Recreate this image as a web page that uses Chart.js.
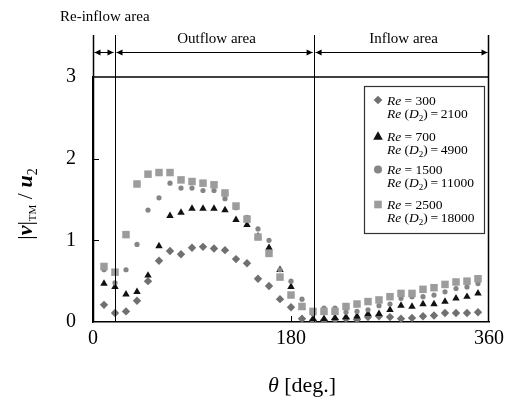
<!DOCTYPE html>
<html><head><meta charset="utf-8">
<script src="https://cdn.jsdelivr.net/npm/chart.js@4/dist/chart.umd.min.js"></script>
<style>html,body{margin:0;padding:0;background:#fff}#wrap{width:510px;height:397px;position:relative}</style>
</head><body><div id="wrap"><canvas id="c" width="510" height="397"></canvas></div>
<script>
// ---- data ----
const theta = [10,20,30,40,50,60,70,80,90,100,110,120,130,140,150,160,170,180,190,200,210,220,230,240,250,260,270,280,290,300,310,320,330,340,350];
const re300  = [0.21,0.11,0.13,0.26,0.50,0.75,0.87,0.83,0.91,0.92,0.90,0.88,0.77,0.72,0.53,0.44,0.28,0.18,0.04,0.02,0.02,0.03,0.04,0.03,0.06,0.07,0.06,0.04,0.05,0.07,0.08,0.11,0.11,0.11,0.12];
const re700  = [0.47,0.43,0.34,0.37,0.57,0.93,1.30,1.34,1.39,1.39,1.39,1.37,1.25,1.19,1.05,0.91,0.64,0.43,0.18,0.04,0.04,0.05,0.06,0.07,0.10,0.10,0.15,0.20,0.19,0.22,0.22,0.25,0.29,0.31,0.35];
const re1500 = [0.64,0.48,0.64,0.95,1.37,1.52,1.70,1.64,1.64,1.61,1.61,1.51,1.40,1.28,1.14,1.00,0.64,0.50,0.28,0.10,0.17,0.17,0.12,0.13,0.15,0.20,0.22,0.29,0.31,0.31,0.33,0.37,0.41,0.43,0.47];
const re2500 = [0.68,0.61,1.07,1.69,1.81,1.83,1.83,1.74,1.72,1.70,1.68,1.58,1.42,1.26,1.04,0.84,0.55,0.33,0.19,0.13,0.13,0.13,0.19,0.22,0.25,0.27,0.31,0.35,0.35,0.40,0.42,0.46,0.49,0.50,0.53];
const xTicks = [0,180,360];
const yTicks = [0,1,2,3];
const areaBounds = [0,20,201,360];
const areaLabels = ['Re-inflow area','Outflow area','Inflow area'];
const legendRe = ['300','700','1500','2500'];
const legendReD2 = ['2100','4900','11000','18000'];

// ---- styles ----
const FAM = "'Liberation Serif','Times New Roman',serif";
const series = [
  {data: re300,  style: 'rectRot',  color: '#707070', r: 4.2},
  {data: re700,  style: 'triangle', color: '#111111', r: 4.3},
  {data: re1500, style: 'circle',   color: '#858585', r: 2.6},
  {data: re2500, style: 'rect',     color: '#9c9c9c', r: 5.3}
];
Chart.defaults.font.family = FAM;
Chart.defaults.color = '#000';

function fontOf(r){ return (r.i?'italic ':'') + (r.b?'bold ':'') + r.s + 'px ' + FAM; }
function runsWidth(ctx, runs){ let w=0; for(const r of runs){ ctx.font=fontOf(r); w+=ctx.measureText(r.t).width; } return w; }
function drawRuns(ctx, x, y, runs){ for(const r of runs){ ctx.font=fontOf(r); ctx.fillText(r.t, x, y+(r.dy||0)); x+=ctx.measureText(r.t).width; } }

function marker(ctx, style, x, y, color){
  ctx.fillStyle = color; ctx.beginPath();
  if(style==='rectRot'){ const h=4.3; ctx.moveTo(x-h,y); ctx.lineTo(x,y-h); ctx.lineTo(x+h,y); ctx.lineTo(x,y+h); ctx.closePath(); }
  else if(style==='triangle'){ ctx.moveTo(x,y-4.8); ctx.lineTo(x+4.8,y+3.8); ctx.lineTo(x-4.8,y+3.8); ctx.closePath(); }
  else if(style==='circle'){ ctx.arc(x,y,4,0,Math.PI*2); }
  else { ctx.rect(x-3.8,y-3.8,7.6,7.6); }
  ctx.fill();
}

function arrowHead(ctx, x, y, dir){
  ctx.beginPath(); ctx.moveTo(x,y); ctx.lineTo(x-dir*6,y-3); ctx.lineTo(x-dir*6,y+3); ctx.closePath(); ctx.fill();
}

const decor = {
  id: 'decor',
  afterDraw(chart){
    const ctx = chart.ctx, xs = chart.scales.x, ys = chart.scales.y, a = chart.chartArea;
    ctx.save();
    ctx.strokeStyle = '#000'; ctx.fillStyle = '#000';
    // box top
    ctx.lineWidth = 1.5;
    ctx.beginPath(); ctx.moveTo(a.left, ys.getPixelForValue(3)); ctx.lineTo(a.right, ys.getPixelForValue(3)); ctx.stroke();
    // inward ticks
    ctx.lineWidth = 1;
    for(const v of yTicks.slice(1,-1)){ const y=Math.round(ys.getPixelForValue(v))+0.5; ctx.beginPath(); ctx.moveTo(a.left,y); ctx.lineTo(a.left+6,y); ctx.stroke(); }
    for(const v of xTicks.slice(1,-1)){ const x=Math.round(xs.getPixelForValue(v))+0.5; ctx.beginPath(); ctx.moveTo(x,a.bottom); ctx.lineTo(x,a.bottom-6); ctx.stroke(); }
    // boundary lines
    const topY = 35, arY = 52.5;
    areaBounds.forEach((b,i)=>{
      const x = Math.round(xs.getPixelForValue(b)) + (i===areaBounds.length-1 ? -0.5 : 0.5);
      ctx.lineWidth = (i===0||i===areaBounds.length-1) ? 1.5 : 1;
      ctx.beginPath(); ctx.moveTo(x, topY); ctx.lineTo(x, a.bottom); ctx.stroke();
    });
    // arrows
    ctx.lineWidth = 1;
    for(let i=0;i<areaBounds.length-1;i++){
      const x1 = xs.getPixelForValue(areaBounds[i])+1.5, x2 = xs.getPixelForValue(areaBounds[i+1])-1.5;
      ctx.beginPath(); ctx.moveTo(x1,arY); ctx.lineTo(x2,arY); ctx.stroke();
      arrowHead(ctx, x1, arY, -1); arrowHead(ctx, x2, arY, 1);
    }
    // area labels
    ctx.font = '15px ' + FAM; ctx.textBaseline = 'alphabetic';
    ctx.textAlign = 'left'; ctx.fillText(areaLabels[0], 60, 21);
    ctx.textAlign = 'center';
    for(let i=1;i<areaLabels.length;i++){
      const cx = (xs.getPixelForValue(areaBounds[i])+xs.getPixelForValue(areaBounds[i+1]))/2 + 2;
      ctx.fillText(areaLabels[i], cx, 43);
    }
    // legend
    ctx.textAlign = 'left';
    ctx.strokeStyle = '#333'; ctx.lineWidth = 1.2;
    ctx.strokeRect(364.5, 86.5, 120, 147);
    const ly = [100, 136, 169.5, 204.5];
    series.forEach((s,i)=>{
      marker(ctx, s.style, 378, ly[i], s.color);
      ctx.fillStyle = '#000';
      drawRuns(ctx, 387, ly[i]+4.5, [{t:'Re',i:1,s:13.5},{t:' = '+legendRe[i],s:13.5}]);
      drawRuns(ctx, 387, ly[i]+17.5, [{t:'Re',i:1,s:13.5},{t:' (',s:13.5},{t:'D',i:1,s:13.5},{t:'2',s:9,dy:3},{t:')\u2009=\u2009'+legendReD2[i],s:13.5}]);
    });
    // x title
    ctx.fillStyle = '#000';
    const xr = [{t:'\u03B8',i:1,s:22},{t:' [deg.]',s:22}];
    const xw = runsWidth(ctx, xr);
    drawRuns(ctx, 302 - xw/2, 392, xr);
    // y title
    ctx.save();
    ctx.translate(32, 204); ctx.rotate(-Math.PI/2);
    const yr = [{t:'|',s:22},{t:'v',i:1,b:1,s:22},{t:'|',s:22},{t:'TM',s:11,dy:4},{t:' / ',s:22},{t:'u',i:1,b:1,s:22},{t:'2',s:14,dy:5}];
    const yw = runsWidth(ctx, yr);
    drawRuns(ctx, -yw/2, 0, yr);
    ctx.restore();
    ctx.restore();
  }
};

const datasets = series.map((s,i)=>({
  label: 'Re = ' + legendRe[i],
  data: theta.map((t,k)=>({x:t, y:s.data[k]})),
  showLine: false,
  pointStyle: s.style,
  pointRadius: s.r,
  pointHoverRadius: s.r,
  pointBorderWidth: 0,
  backgroundColor: s.color,
  borderColor: s.color,
  order: series.length - 1 - i
}));

new Chart(document.getElementById('c'), {
  type: 'scatter',
  data: { datasets },
  options: {
    responsive: false, animation: false, devicePixelRatio: 1,
    layout: { padding: { top: 77, right: 21, left: 0, bottom: 0 } },
    plugins: { legend: { display: false }, tooltip: { enabled: false } },
    scales: {
      x: {
        type: 'linear', min: 0, max: 360,
        afterBuildTicks: sc => { sc.ticks = xTicks.map(v=>({value:v})); },
        afterFit: sc => { sc.height = 75; },
        grid: { display: false, drawTicks: false },
        border: { display: true, color: '#000', width: 1.5 },
        ticks: { font: { size: 20, family: FAM }, color: '#000', padding: 5, maxRotation: 0, autoSkip: false }
      },
      y: {
        min: 0, max: 3,
        afterBuildTicks: sc => { sc.ticks = yTicks.map(v=>({value:v})); },
        afterFit: sc => { sc.width = 93; },
        grid: { display: false, drawTicks: false },
        border: { display: true, color: '#000', width: 1.5 },
        ticks: { font: { size: 20, family: FAM }, color: '#000', padding: 17, autoSkip: false }
      }
    }
  },
  plugins: [decor]
});
</script></body></html>
